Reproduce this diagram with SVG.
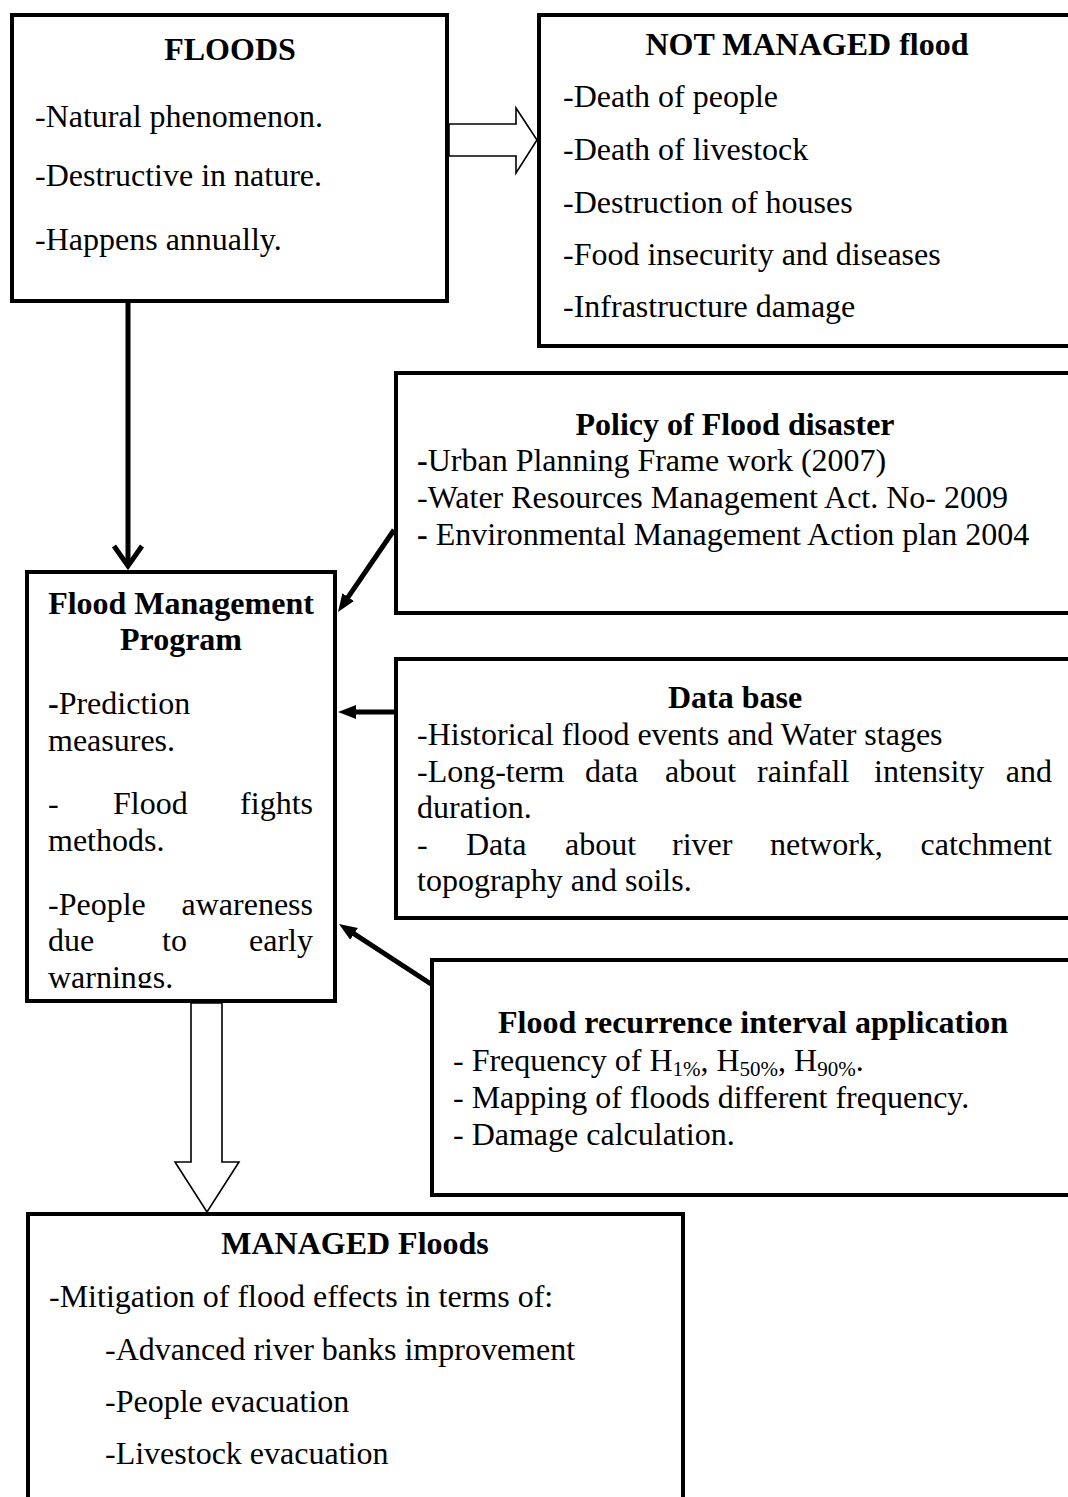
<svg xmlns="http://www.w3.org/2000/svg" width="1068" height="1497" viewBox="0 0 1068 1497">
<style>
.box{fill:#fff;stroke:#000;stroke-width:4}
.t{font-family:"Liberation Serif","Times New Roman",serif;font-size:32px;fill:#000}
.b{font-weight:bold}
.c{text-anchor:middle}
.e{text-anchor:end}
.sub{font-size:21px}
.con{fill:none;stroke:#000;stroke-width:5}
.hollow{fill:#fff;stroke:#000;stroke-width:1.6;stroke-linejoin:miter}
</style>
<defs>
<marker id="ah" markerUnits="userSpaceOnUse" markerWidth="20" markerHeight="16" refX="4" refY="7" orient="auto">
<path d="M0,0 L18,7 L0,14 z" fill="#000"/>
</marker>
<marker id="chev" markerUnits="userSpaceOnUse" markerWidth="30" markerHeight="34" refX="22" refY="16" orient="auto">
<path d="M2,2 L22,16 L2,30" fill="none" stroke="#000" stroke-width="5"/>
</marker>
<clipPath id="fmpClip"><rect x="27" y="572" width="308" height="416"/></clipPath>
</defs>

<g id="floods">
<rect class="box" x="12" y="15" width="435" height="286"/>
<text class="t b c" x="230" y="60">FLOODS</text>
<text class="t" x="35" y="127">-Natural phenomenon.</text>
<text class="t" x="35" y="186">-Destructive in nature.</text>
<text class="t" x="35" y="250">-Happens annually.</text>
</g>

<g id="not-managed">
<rect class="box" x="539" y="15" width="560" height="331"/>
<text class="t b c" x="807" y="55">NOT MANAGED flood</text>
<text class="t" x="563" y="107">-Death of people</text>
<text class="t" x="563" y="160">-Death of livestock</text>
<text class="t" x="563" y="213">-Destruction of houses</text>
<text class="t" x="563" y="265">-Food insecurity and diseases</text>
<text class="t" x="563" y="317">-Infrastructure damage</text>
</g>

<g id="policy">
<rect class="box" x="396" y="373" width="700" height="240"/>
<text class="t b c" x="735" y="435">Policy of Flood disaster</text>
<text class="t" x="417" y="471"><tspan class="b">-</tspan>Urban Planning Frame work (2007)</text>
<text class="t" x="417" y="508">-Water Resources Management Act. No- 2009</text>
<text class="t" x="417" y="545"><tspan class="b">-</tspan> Environmental Management Action plan 2004</text>
</g>

<g id="database">
<rect class="box" x="396" y="659" width="700" height="259"/>
<text class="t b c" x="735" y="708">Data base</text>
<text class="t" x="417" y="745">-Historical flood events and Water stages</text>
<text class="t" y="782"><tspan x="417">-Long-term</tspan><tspan x="585">data</tspan><tspan x="665">about</tspan><tspan x="757">rainfall</tspan><tspan x="874">intensity</tspan></text>
<text class="t e" x="1052" y="782">and</text>
<text class="t" x="417" y="818">duration.</text>
<text class="t" y="855"><tspan x="417">-</tspan><tspan x="466">Data</tspan><tspan x="565">about</tspan><tspan x="672">river</tspan><tspan x="770">network,</tspan></text>
<text class="t e" x="1052" y="855">catchment</text>
<text class="t" x="417" y="891">topography and soils.</text>
</g>

<g id="recurrence">
<rect class="box" x="432" y="960" width="660" height="235"/>
<text class="t b c" x="753" y="1033">Flood recurrence interval application</text>
<text class="t" x="453" y="1071">- Frequency of H<tspan class="sub" dy="5">1%</tspan><tspan dy="-5">, H</tspan><tspan class="sub" dy="5">50%</tspan><tspan dy="-5">, H</tspan><tspan class="sub" dy="5">90%</tspan><tspan dy="-5">.</tspan></text>
<text class="t" x="453" y="1108">- Mapping of floods different frequency.</text>
<text class="t" x="453" y="1145">- Damage calculation.</text>
</g>

<g id="fmp">
<rect class="box" x="27" y="572" width="308" height="429"/>
<g clip-path="url(#fmpClip)">
<text class="t b c" x="181" y="614">Flood Management</text>
<text class="t b c" x="181" y="650">Program</text>
<text class="t" x="48" y="714"><tspan class="b">-</tspan>Prediction</text>
<text class="t" x="48" y="751">measures.</text>
<text class="t" y="814"><tspan x="48">-</tspan><tspan x="113">Flood</tspan></text>
<text class="t e" x="313" y="814">fights</text>
<text class="t" x="48" y="851">methods.</text>
<text class="t" x="48" y="915">-People</text>
<text class="t e" x="313" y="915">awareness</text>
<text class="t" y="951"><tspan x="48">due</tspan><tspan x="162">to</tspan></text>
<text class="t e" x="313" y="951">early</text>
<text class="t" x="48" y="988">warnings.</text>
</g>
</g>

<g id="managed">
<rect class="box" x="28" y="1214" width="655" height="300"/>
<text class="t b c" x="355" y="1254">MANAGED Floods</text>
<text class="t" x="49" y="1307">-Mitigation of flood effects in terms of:</text>
<text class="t" x="105" y="1360">-Advanced river banks improvement</text>
<text class="t" x="105" y="1412">-People evacuation</text>
<text class="t" x="105" y="1464">-Livestock evacuation</text>
</g>

<g id="connectors">
<polygon class="hollow" points="449,124 516,124 516,108 537,140 516,173 516,156 449,156"/>
<path class="con" d="M128,302 L128,566" marker-end="url(#chev)"/>
<path class="con" d="M394,530 L345.9,600.4" marker-end="url(#ah)"/>
<path class="con" d="M396,712 L352,712" marker-end="url(#ah)"/>
<path class="con" d="M431,984 L350.7,931.7" marker-end="url(#ah)"/>
<polygon class="hollow" points="191,1003 191,1162 175,1162 207,1212 239,1162 222,1162 222,1003"/>
</g>
</svg>
